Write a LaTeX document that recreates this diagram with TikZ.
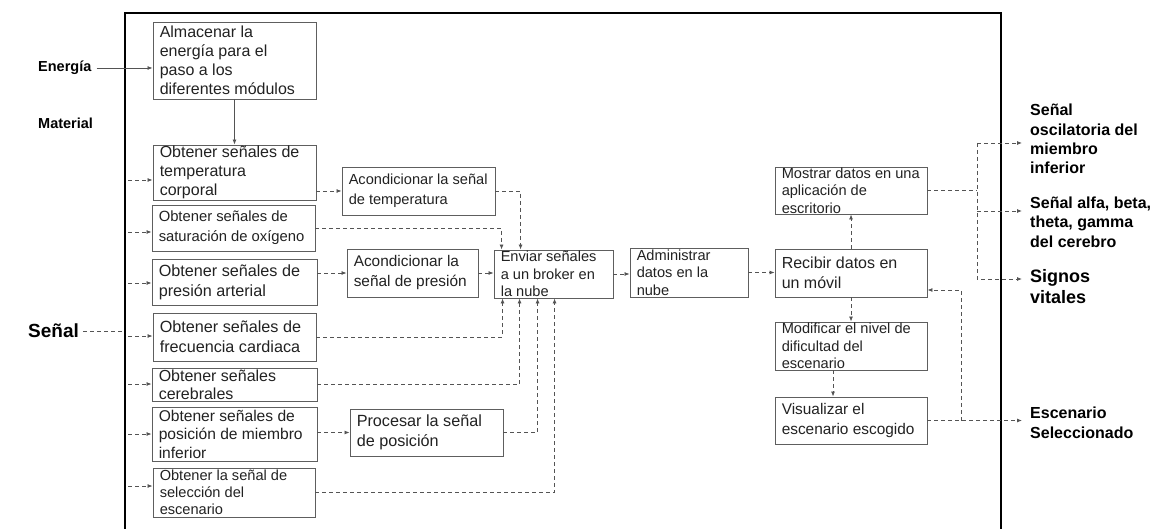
\documentclass[tikz,border=0pt]{standalone}
\usepackage{fontspec}
\setmainfont{Liberation Sans}
\usetikzlibrary{arrows.meta,calc}

\definecolor{boxline}{HTML}{5E5E5E}
\definecolor{wire}{HTML}{545454}
\definecolor{ink}{HTML}{222222}

\tikzset{
  procframe/.style={draw=boxline, line width=0.9pt, rectangle, inner sep=0pt, fill=white},
  proctext/.style={inner sep=0pt, align=left, text=ink, anchor=west},
  sig/.style={draw=wire, line width=0.8pt, dash pattern=on 4pt off 3pt, -{Latex[length=5pt,width=4pt]}},
  sigplain/.style={draw=wire, line width=0.8pt, dash pattern=on 4pt off 3pt},
  pow/.style={draw=wire, line width=0.8pt, -{Latex[length=5pt,width=4pt]}},
  extlabel/.style={inner sep=0pt, anchor=west, align=left, text=black},
}

% process box: name, centre, width, height, font size, line skip, text
\newcommand{\procbox}[7]{%
  \node[procframe, minimum width=#3pt, minimum height=#4pt] (#1) at (#2) {};
  \node[proctext, font=\fontsize{#5}{#6}\selectfont] (#1-txt) at ([xshift=7pt]#1.west) {#7};
}

\begin{document}
\begin{tikzpicture}[x=1pt, y=-1pt]
\useasboundingbox (0,0) rectangle (1155,529);

% system boundary
\draw[line width=2.6pt, black] (125,540) -- (125,13) -- (1001,13) -- (1001,540);

% inputs and outputs
\node[extlabel, font=\fontsize{14.5}{17}\selectfont\bfseries] (energia) at (38,68) {Energía};
\node[extlabel, font=\fontsize{14.5}{17}\selectfont\bfseries] (material) at (38,123) {Material};
\node[extlabel, font=\fontsize{19}{22}\selectfont\bfseries] (senal) at (28,331) {Señal};

\node[extlabel, font=\fontsize{16}{19.3}\selectfont\bfseries] (outA) at (1030,139) {Señal\\oscilatoria del\\miembro\\inferior};
\node[extlabel, font=\fontsize{16}{19.3}\selectfont\bfseries] (outB) at (1030,222) {Señal alfa, beta,\\theta, gamma\\del cerebro};
\node[extlabel, font=\fontsize{18}{21}\selectfont\bfseries] (outC) at (1030,287) {Signos\\vitales};
\node[extlabel, font=\fontsize{16}{19.5}\selectfont\bfseries] (outD) at (1030,423) {Escenario\\Seleccionado};

% processes
\procbox{alm}{234.5,60.5}{163}{77}{16}{19}{Almacenar la\\energía para el\\paso a los\\diferentes módulos}
\procbox{temp}{234.5,172.5}{163}{55}{16}{19}{Obtener señales de\\temperatura\\corporal}
\procbox{sat}{233.5,228}{163}{46}{14.8}{20}{Obtener señales de\\saturación de oxígeno}
\procbox{pres}{234.5,282}{165}{46}{16.2}{20}{Obtener señales de\\presión arterial}
\procbox{frec}{234.5,337}{163}{48}{16.2}{20}{Obtener señales de\\frecuencia cardiaca}
\procbox{cereb}{234.5,384.5}{165}{33}{16}{18}{Obtener señales\\cerebrales}
\procbox{pos}{234.5,434}{165}{54}{15.6}{18.5}{Obtener señales de\\posición de miembro\\inferior}
\procbox{sel}{234,492.5}{162}{49}{14.6}{17}{Obtener la señal de\\selección del\\escenario}

\procbox{acondT}{418.5,191}{153}{48}{14.6}{20}{Acondicionar la señal\\de temperatura}
\procbox{acondP}{412.5,273}{131}{48}{15.4}{20}{Acondicionar la\\señal de presión}
\procbox{proc}{426.5,432.5}{153}{47}{16.2}{20}{Procesar la señal\\de posición}

\procbox{enviar}{553.5,274}{119}{48}{14.6}{17.5}{Enviar señales\\a un broker en\\la nube}
\procbox{admin}{689,272.5}{118}{49}{14.6}{17.5}{Administrar\\datos en la\\nube}

\procbox{mostrar}{851,190.5}{152}{47}{14.6}{17.5}{Mostrar datos en una\\aplicación de\\escritorio}
\procbox{recibir}{851,273}{152}{48}{16}{20}{Recibir datos en\\un móvil}
\procbox{modif}{851,346}{152}{48}{14.6}{17.5}{Modificar el nivel de\\dificultad del\\escenario}
\procbox{visual}{851,420.5}{152}{47}{15.4}{20}{Visualizar el\\escenario escogido}

% helper points on the boundary and at the outputs
\coordinate (frameL) at (125,0);
\coordinate (inT) at (128,180);
\coordinate (inS) at (128,232);
\coordinate (inP) at (128,283);
\coordinate (inF) at (128,336);
\coordinate (inC) at (128,384);
\coordinate (inM) at (128,434);
\coordinate (inE) at (128,486);
\coordinate (busX) at (977,0);
\coordinate (fbX) at (961,0);
\coordinate (toA) at (1022,143);
\coordinate (toB) at (1022,211);
\coordinate (toC) at (1022,279);
\coordinate (toD) at (1022,0);

% energy flow
\draw[pow] ([xshift=5pt]energia.east) -- (energia.east -| alm.west);
\draw[pow] (alm.south) -- (temp.north);

% signal inputs
\draw[sigplain] ([xshift=4pt]senal.east) -- (senal.east -| frameL);
\draw[sig] (inT) -- (inT -| temp.west);
\draw[sig] (inS) -- (inS -| sat.west);
\draw[sig] (inP) -- (inP -| pres.west);
\draw[sig] (inF) -- (inF -| frec.west);
\draw[sig] (inC) -- (inC -| cereb.west);
\draw[sig] (inM) -- (inM -| pos.west);
\draw[sig] (inE) -- (inE -| sel.west);

% conditioning
\draw[sig] (temp.east |- acondT.west) -- (acondT.west);
\draw[sig] (pres.east |- acondP.west) -- (acondP.west);
\draw[sig] (pos.east |- proc.west) -- (proc.west);

% into the broker
\draw[sig] (acondT.east) -| ([xshift=27pt]enviar.north west);
\draw[sig] (sat.east) -| ([xshift=8pt]enviar.north west);
\draw[sig] (acondP.east) -- (acondP.east -| enviar.west);
\draw[sig] (frec.east) -| ([xshift=9pt]enviar.south west);
\draw[sig] (cereb.east) -| ([xshift=26pt]enviar.south west);
\draw[sig] (proc.east) -| ([xshift=44pt]enviar.south west);
\draw[sig] (sel.east) -| ([xshift=61pt]enviar.south west);

% cloud and mobile
\draw[sig] (enviar.east) -- (enviar.east -| admin.west);
\draw[sig] (admin.east) -- (admin.east -| recibir.west);
\draw[sig] (recibir.north) -- (mostrar.south);
\draw[sig] (recibir.south) -- (modif.north);
\draw[sig] ([xshift=-18pt]modif.south) -- ([xshift=-18pt]visual.north);

% outputs
\draw[sigplain] (mostrar.east) -- (mostrar.east -| busX);
\draw[sig] (toA -| busX) -- (toA);
\draw[sig] (toA -| busX) |- (toC);
\draw[sig] (toB -| busX) -- (toB);
\draw[sig] (visual.east) -- (visual.east -| toD);
\draw[sig] (visual.east -| fbX) |- ([yshift=-17pt]recibir.east);
\end{tikzpicture}
\end{document}
